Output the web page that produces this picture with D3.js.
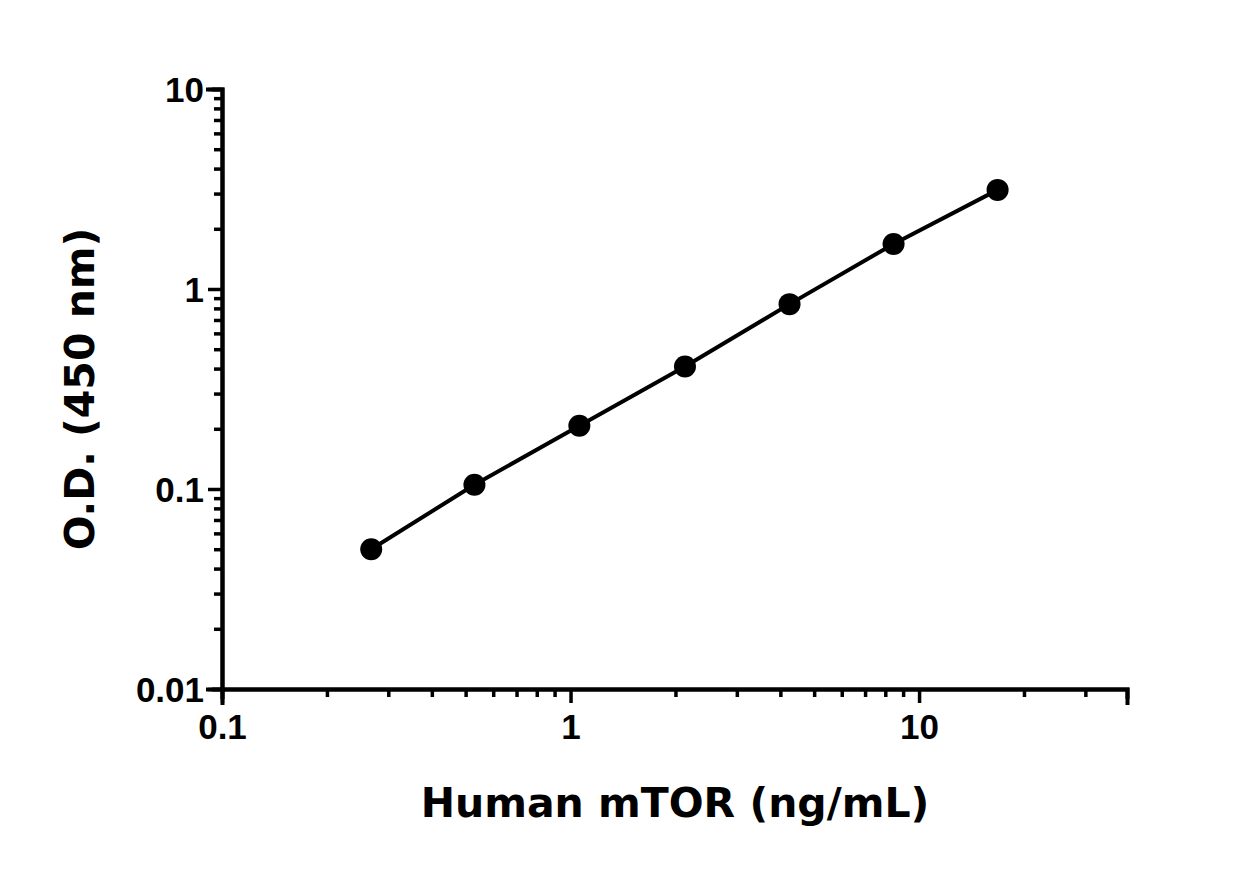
<!DOCTYPE html><html><head><meta charset="utf-8">
<script src="https://cdn.jsdelivr.net/npm/d3@7"></script>
<style>body{margin:0;background:#fff}</style></head><body>
<svg id="c" width="1250" height="869"></svg>
<script>
const concentrations=[0.268,0.53,1.06,2.13,4.25,8.45,16.8];
const odValues=[0.05,0.105,0.207,0.41,0.84,1.68,3.13];
const xTickLabels=[0.1,1,10];
const yTickLabels=[0.01,0.1,1,10];
const svg=d3.select("#c");
const x=d3.scaleLog().domain([0.1,39.5]).range([222,1127]);
const y=d3.scaleLog().domain([0.01,10]).range([689,89]);
const minorX=[];for(let d=0.1;d<40;d*=10)for(let k=2;k<=9;k++)if(d*k<=39.5)minorX.push(d*k);
const minorY=[];for(let d=0.01;d<10;d*=10)for(let k=2;k<=9;k++)minorY.push(d*k);
const tf="'Liberation Sans Narrow','Liberation Sans',sans-serif";
svg.append("g").attr("transform","translate(0,689)").call(d3.axisBottom(x).tickValues(minorX).tickSize(8).tickFormat(""));
svg.append("g").attr("transform","translate(222,0)").call(d3.axisLeft(y).tickValues(minorY).tickSize(8).tickFormat(""));
const gx=svg.append("g").attr("class","maj").attr("transform","translate(0,689)").call(d3.axisBottom(x).tickValues(xTickLabels).tickSize(14).tickFormat(d3.format("")));
const gy=svg.append("g").attr("class","maj").attr("transform","translate(222,0)").call(d3.axisLeft(y).tickValues(yTickLabels).tickSize(14).tickFormat(d3.format("")));
svg.selectAll(".domain").attr("stroke","#000").attr("stroke-width",4).attr("stroke-linecap","square");
svg.selectAll(".tick line").attr("stroke","#000").attr("stroke-width",3.5);
svg.selectAll(".tick text").attr("font-family",tf).attr("font-weight","bold").attr("font-size",35).attr("fill","#000");
gx.selectAll(".tick text").attr("dy","0.95em");
gy.selectAll(".tick text").attr("dx","-1").attr("dy","0.36em");
const pts=concentrations.map((c,i)=>[c,odValues[i]]);
svg.append("path").datum(pts).attr("fill","none").attr("stroke","#000").attr("stroke-width",4)
 .attr("d",d3.line().x(d=>x(d[0])).y(d=>y(d[1])));
svg.selectAll("circle").data(pts).join("circle").attr("cx",d=>x(d[0])).attr("cy",d=>y(d[1])).attr("r",11).attr("fill","#000");
const lf="'DejaVu Sans',sans-serif";
svg.append("text").attr("x",675).attr("y",817).attr("text-anchor","middle").attr("font-family",lf).attr("font-weight","bold").attr("font-size",41).text("Human mTOR (ng/mL)");
svg.append("text").attr("transform","translate(94,389) rotate(-90)").attr("text-anchor","middle").attr("font-family",lf).attr("font-weight","bold").attr("font-size",41).text("O.D. (450 nm)");
</script></body></html>
